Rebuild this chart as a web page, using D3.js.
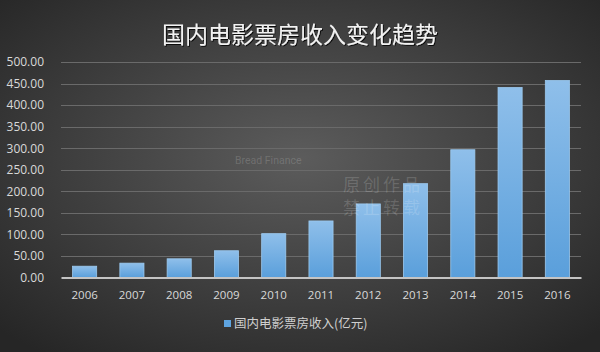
<!DOCTYPE html>
<html>
<head>
<meta charset="utf-8">
<script src="https://cdn.jsdelivr.net/npm/d3@7"></script>
<style>
  html, body { margin: 0; padding: 0; background: #3a3a3a; }
  svg { display: block; font-family: "Noto Sans CJK SC", "Noto Sans", sans-serif; }
</style>
</head>
<body>
<div id="chart"></div>
<script>
(function () {

  // Datos del gráfico
  const years = ['2006', '2007', '2008', '2009', '2010', '2011', '2012', '2013', '2014', '2015', '2016']
  const revenue = [26.2, 33.3, 43.4, 62.1, 101.7, 131.2, 170.7, 217.7, 296.4, 440.7, 457.1]
  const yTicks = [0, 50, 100, 150, 200, 250, 300, 350, 400, 450, 500]
  const title = '国内电影票房收入变化趋势'
  const seriesName = '国内电影票房收入(亿元)'

  const width = 600
  const height = 352
  const margin = { top: 62, right: 19, bottom: 74.5, left: 61 }

  const svg = d3.select('#chart').append('svg')
    .attr('width', width)
    .attr('height', height)

  const defs = svg.append('defs')

  // Fondo con degradado radial
  const bg = defs.append('radialGradient')
    .attr('id', 'bg')
    .attr('cx', '50%').attr('cy', '45%').attr('r', '70%')
  bg.append('stop').attr('offset', '0%').attr('stop-color', '#5c5c5c')
  bg.append('stop').attr('offset', '100%').attr('stop-color', '#262626')

  const barGrad = defs.append('linearGradient')
    .attr('id', 'bar')
    .attr('x1', 0).attr('y1', 0).attr('x2', 0).attr('y2', 1)
  barGrad.append('stop').attr('offset', '0%').attr('stop-color', '#8fbfea')
  barGrad.append('stop').attr('offset', '100%').attr('stop-color', '#5a9fdb')

  const shadow = defs.append('filter').attr('id', 'shadow')
  shadow.append('feDropShadow')
    .attr('dx', 1).attr('dy', 1).attr('stdDeviation', 0.6)
    .attr('flood-color', '#000').attr('flood-opacity', 0.8)

  svg.append('rect')
    .attr('width', width)
    .attr('height', height)
    .attr('fill', 'url(#bg)')

  // Escalas
  const x = d3.scaleBand()
    .domain(years)
    .range([margin.left, width - margin.right])
    .paddingInner(0.49)
    .paddingOuter(0.245)

  const y = d3.scaleLinear()
    .domain([0, 500])
    .range([height - margin.bottom, margin.top])

  // Título
  svg.append('text')
    .attr('x', width / 2)
    .attr('y', 43)
    .attr('text-anchor', 'middle')
    .attr('font-size', 23)
    .attr('fill', '#f2f2f2')
    .attr('filter', 'url(#shadow)')
    .text(title)

  // Líneas de la cuadrícula
  svg.append('g')
    .selectAll('line')
    .data(yTicks.slice(1))
    .join('line')
    .attr('x1', margin.left)
    .attr('x2', width - margin.right)
    .attr('y1', d => Math.round(y(d)) + 0.5)
    .attr('y2', d => Math.round(y(d)) + 0.5)
    .attr('stroke', '#6a6a6a')
    .attr('stroke-width', 1)

  // Barras
  svg.append('g')
    .selectAll('rect')
    .data(years.map((yr, i) => ({ year: yr, value: revenue[i] })))
    .join('rect')
    .attr('x', d => x(d.year))
    .attr('y', d => y(d.value))
    .attr('width', x.bandwidth())
    .attr('height', d => y(0) - y(d.value))
    .attr('fill', 'url(#bar)')
    .attr('stroke', '#9ccaf0')
    .attr('stroke-width', 0.8)

  // Marca de agua (encima de las barras, como en la imagen)
  const wm = svg.append('g').attr('fill', '#ffffff').attr('fill-opacity', 0.16)
  wm.append('text')
    .attr('x', 235).attr('y', 164)
    .attr('font-family', 'Roboto, sans-serif')
    .attr('font-size', 10.5)
    .text('Bread Finance')
  wm.append('text')
    .attr('x', 343).attr('y', 191)
    .attr('font-size', 17)
    .attr('letter-spacing', 3)
    .text('原创作品')
  wm.append('text')
    .attr('x', 343).attr('y', 214)
    .attr('font-size', 17)
    .attr('letter-spacing', 3)
    .text('禁止转载')

  // Eje Y
  const yAxis = svg.append('g')
    .attr('transform', `translate(${margin.left - 14},0)`)
    .call(d3.axisLeft(y).tickValues(yTicks).tickSize(0).tickFormat(d3.format('.2f')))
  yAxis.select('.domain').remove()
  yAxis.selectAll('text')
    .attr('fill', '#d9d9d9')
    .attr('font-size', 12)
    .attr('font-family', '"Open Sans", sans-serif')

  // Eje X
  const xAxis = svg.append('g')
    .attr('transform', `translate(0,${y(0)})`)
    .call(d3.axisBottom(x).tickSize(0).tickPadding(13))
  xAxis.select('.domain')
    .attr('stroke', '#c4c4c4')
    .attr('stroke-width', 2)
  xAxis.selectAll('text')
    .attr('fill', '#d9d9d9')
    .attr('font-size', 11.5)
    .attr('font-family', '"Open Sans", sans-serif')

  // Leyenda
  const legend = svg.append('g').attr('transform', 'translate(224,320)')
  legend.append('rect')
    .attr('width', 7).attr('height', 7)
    .attr('fill', '#5ea4e0')
  legend.append('text')
    .attr('x', 10).attr('y', 8)
    .attr('font-size', 12.5)
    .attr('fill', '#cfcfcf')
    .text(seriesName)

})()
</script>
</body>
</html>
